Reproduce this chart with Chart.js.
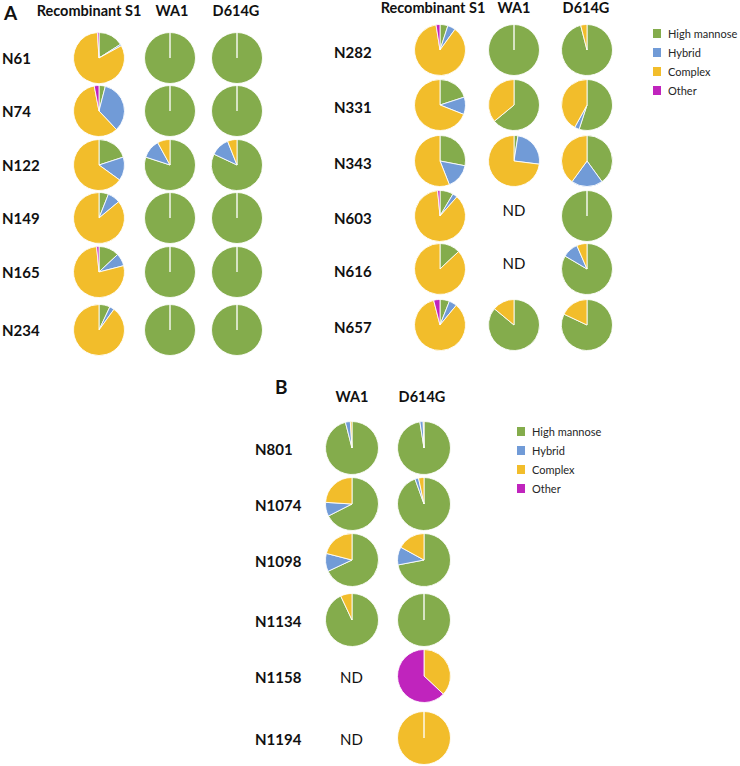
<!DOCTYPE html>
<html>
<head>
  <style>
    html,
    body {
      margin: 0;
      height: 100%;
      overflow: hidden;
      background: #fff;
    }
    .t {
      position: absolute;
      font-family: Lato, 'Open Sans', sans-serif;
      color: #111;
      white-space: nowrap;
      line-height: 1;
    }
    .b { font-weight: bold; }
    .pie { position: absolute; }
    .sq { position: absolute; width: 8px; height: 9px; }
  </style>
</head>
<body>
  <div id="fig"></div>
</body>
<script src="https://cdn.jsdelivr.net/npm/chart.js@4"></script>
<script>
  // glycan classes, clockwise from 12 o'clock
  const categories = ['High mannose', 'Hybrid', 'Complex', 'Other']
  const colors = ['#84ac4c', '#719bd7', '#f2bd2b', '#c024bd']

  // percentages [high mannose, hybrid, complex, other]; null = ND
  const sitesA1 = ['N61', 'N74', 'N122', 'N149', 'N165', 'N234']
  const recombA1 = [
    [16, 1, 82, 1],
    [4, 34, 59, 3],
    [20, 15, 65, 0],
    [6, 8, 86, 0],
    [13, 8, 77.5, 1.5],
    [7, 3, 90, 0]
  ]
  const wa1A1 = [
    [100, 0, 0, 0],
    [100, 0, 0, 0],
    [80, 12, 8, 0],
    [100, 0, 0, 0],
    [100, 0, 0, 0],
    [100, 0, 0, 0]
  ]
  const d614gA1 = [
    [100, 0, 0, 0],
    [100, 0, 0, 0],
    [82, 12, 6, 0],
    [100, 0, 0, 0],
    [100, 0, 0, 0],
    [100, 0, 0, 0]
  ]

  const sitesA2 = ['N282', 'N331', 'N343', 'N603', 'N616', 'N657']
  const recombA2 = [
    [5, 5, 87.5, 2.5],
    [20, 11, 69, 0],
    [28, 16, 56, 0],
    [8.5, 3, 87, 1.5],
    [13, 0, 87, 0],
    [6, 5, 85, 4]
  ]
  const wa1A2 = [
    [100, 0, 0, 0],
    [64, 0, 36, 0],
    [2.5, 24.5, 73, 0],
    null,
    null,
    [86, 0, 14, 0]
  ]
  const d614gA2 = [
    [96, 0, 4, 0],
    [55, 3, 42, 0],
    [40, 20, 40, 0],
    [100, 0, 0, 0],
    [83.5, 10, 6.5, 0],
    [82, 0, 18, 0]
  ]

  const sitesB = ['N801', 'N1074', 'N1098', 'N1134', 'N1158', 'N1194']
  const wa1B = [
    [96, 3, 1, 0],
    [67.5, 8.5, 24, 0],
    [68, 11, 21, 0],
    [93, 0, 7, 0],
    null,
    null
  ]
  const d614gB = [
    [97.5, 2, 0.5, 0],
    [94.5, 2.2, 3.3, 0],
    [72, 11, 17, 0],
    [100, 0, 0, 0],
    [0, 0, 37, 63],
    [0, 0, 100, 0]
  ]

  const fig = document.getElementById('fig')

  function text(str, x, y, size, bold, align) {
    const d = document.createElement('div')
    d.className = 't' + (bold ? ' b' : '')
    d.textContent = str
    d.style.fontSize = size + 'px'
    d.style.left = x + 'px'
    d.style.top = y + 'px'
    const tx = align === 'center' ? '-50%' : '0'
    d.style.transform = 'translate(' + tx + ',-50%)'
    fig.appendChild(d)
    return d
  }

  function pie(values, cx, cy, r) {
    const size = 2 * r + 2
    const c = document.createElement('canvas')
    c.className = 'pie'
    c.width = size
    c.height = size
    c.style.left = cx - size / 2 + 'px'
    c.style.top = cy - size / 2 + 'px'
    fig.appendChild(c)
    new Chart(c, {
      type: 'pie',
      data: {
        labels: categories,
        datasets: [
          {
            data: values,
            backgroundColor: colors,
            borderColor: 'rgba(255,255,255,0.85)',
            borderWidth: 1
          }
        ]
      },
      options: {
        responsive: false,
        animation: false,
        events: [],
        layout: { padding: 0 },
        plugins: {
          legend: { display: false },
          tooltip: { enabled: false }
        }
      }
    })
  }

  function panel(p) {
    p.headers.forEach((h, i) => text(h, p.headX[i], p.headY, 14.5, true, 'center'))
    p.sites.forEach((s, j) => {
      text(s, p.labelX, p.rows[j] + p.labelDy, 15, true, 'left')
      p.series.forEach((ser, i) => {
        if (ser[j]) pie(ser[j], p.cols[i], p.rows[j], p.r)
        else text('ND', p.cols[i], p.rows[j] + p.ndDy, 15, false, 'center')
      })
    })
  }

  function legend(x, y) {
    categories.forEach((name, i) => {
      const s = document.createElement('div')
      s.className = 'sq'
      s.style.background = colors[i]
      s.style.left = x + 'px'
      s.style.top = y + i * 19 - 4.5 + 'px'
      fig.appendChild(s)
      text(name, x + 15, y + i * 19, 11, false, 'left').style.color = '#262626'
    })
  }

  text('A', 4, 12, 19, true, 'left')
  text('B', 275, 386, 19, true, 'left')

  panel({
    headers: ['Recombinant S1', 'WA1', 'D614G'],
    headX: [89, 172, 236], headY: 11,
    sites: sitesA1, series: [recombA1, wa1A1, d614gA1],
    cols: [99, 170, 237], rows: [58, 111, 165, 218, 272, 330],
    r: 25, labelX: 2, labelDy: 0, ndDy: 0
  })
  panel({
    headers: ['Recombinant S1', 'WA1', 'D614G'],
    headX: [433, 514, 586], headY: 8,
    sites: sitesA2, series: [recombA2, wa1A2, d614gA2],
    cols: [440, 514, 587], rows: [50, 105, 161, 216, 269, 325],
    r: 25, labelX: 334, labelDy: 2, ndDy: -6
  })
  panel({
    headers: ['WA1', 'D614G'],
    headX: [352, 422], headY: 397,
    sites: sitesB, series: [wa1B, d614gB],
    cols: [351.5, 424], rows: [447.5, 503.5, 560, 620, 676, 737.5],
    r: 26, labelX: 255, labelDy: 1, ndDy: 1
  })

  legend(653, 33)
  legend(517, 431)
</script>
</html>
